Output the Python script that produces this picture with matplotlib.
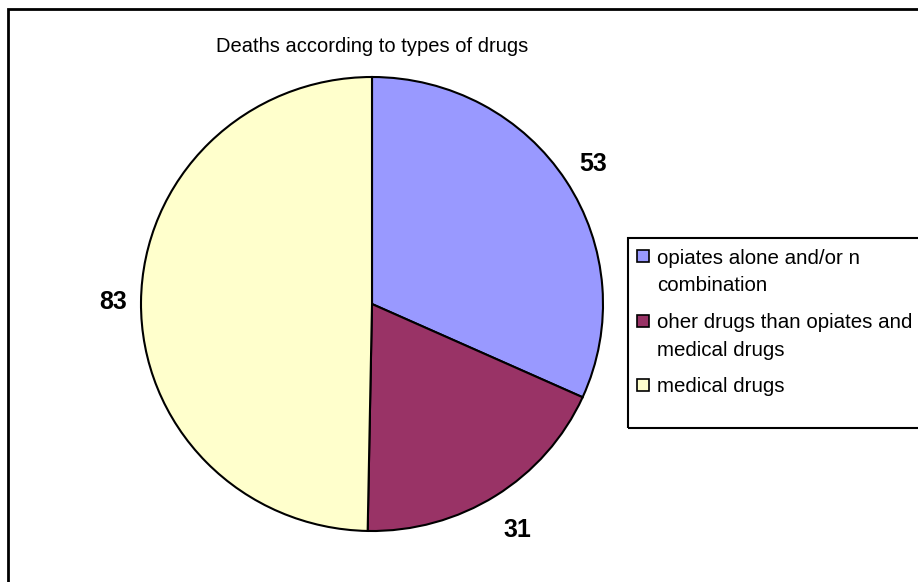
import matplotlib
matplotlib.use("Agg")
import matplotlib.pyplot as plt
from matplotlib.patches import Rectangle
import numpy as np

# data
categories = ["opiates alone and/or n\ncombination",
              "oher drugs than opiates and\nmedical drugs",
              "medical drugs"]
values = [53, 31, 83]
colors = ["#9999FF", "#993366", "#FFFFCC"]
label_dist = [1.14, 1.18, 1.12]

W, H = 918, 582
FONT = "Liberation Sans"
fig = plt.figure(figsize=(W / 100, H / 100), dpi=100)
fig.patch.set_facecolor("white")


def fx(px):
    return px / W


def fy(py):
    # pixel rows counted from the top
    return 1 - py / H


# outer chart frame (right and bottom edges fall outside the picture)
fig.add_artist(Rectangle((fx(8), -0.1), 2.0, fy(9) + 0.1,
                         transform=fig.transFigure, fill=False,
                         edgecolor="black", lw=2))

# pie axes: centre ~(372, 304) px, radii ~231 x 227 px
cx, cy, rx, ry = 372, 304, 231, 227
ax = fig.add_axes([fx(cx - rx), fy(cy + ry), 2 * rx / W, 2 * ry / H])
wedges, texts = ax.pie(values, colors=colors, startangle=90, counterclock=False,
                       labels=[str(v) for v in values], labeldistance=1.14,
                       wedgeprops=dict(edgecolor="black", linewidth=1.5),
                       textprops=dict(fontsize=18, fontweight="bold", family=FONT))
ax.set_aspect("auto")
ax.set_xlim(-1, 1)
ax.set_ylim(-1, 1)
ax.axis("off")

# each value label at its own distance along the wedge middle
for w, t, d in zip(wedges, texts, label_dist):
    mid = np.deg2rad((w.theta1 + w.theta2) / 2)
    t.set_position((d * np.cos(mid), d * np.sin(mid)))
    t.set_ha("center")
    t.set_va("center")
    t.set_clip_on(False)

fig.text(fx(cx), fy(46), "Deaths according to types of drugs",
         ha="center", va="center", fontsize=14.5, family=FONT)

# legend box (its right edge is outside the picture); swatch sits on the
# first line of each entry, as in the original
fig.add_artist(Rectangle((fx(628), fy(427.5)), 1.0, 190 / H,
                         transform=fig.transFigure, fill=False,
                         edgecolor="black", lw=1.5))
line_h, gap, sw = 27.5, 37, 12
y = 256
for lab, col in zip(categories, colors):
    fig.add_artist(Rectangle((fx(637), fy(y + sw / 2)), sw / W, sw / H,
                             transform=fig.transFigure, facecolor=col,
                             edgecolor="black", lw=1.2))
    lines = lab.split("\n")
    for k, ln in enumerate(lines):
        fig.text(fx(657), fy(y + k * line_h), ln, ha="left",
                 va="center_baseline", fontsize=14.8, family=FONT)
    y += (len(lines) - 1) * line_h + gap

fig.savefig("out.png", dpi=100, facecolor="white")
